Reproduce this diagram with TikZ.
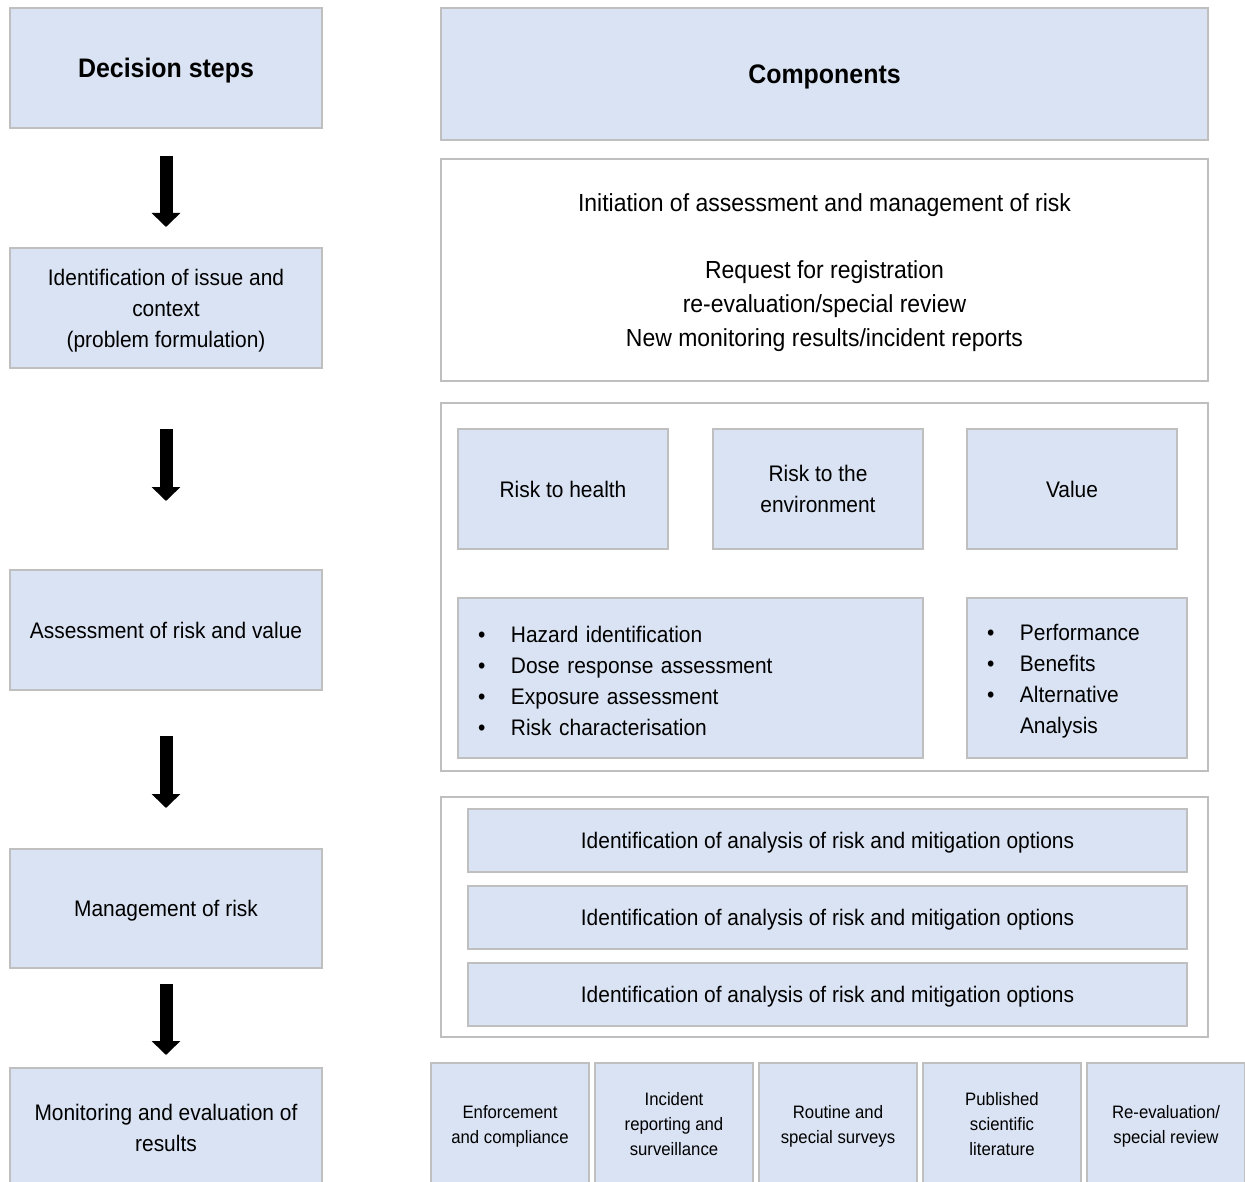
\documentclass[tikz,border=0pt]{standalone}
\usepackage{fontspec}
\setmainfont{Liberation Sans}[FakeStretch=0.93]
\usetikzlibrary{arrows.meta,calc}
\definecolor{boxfill}{HTML}{DAE3F3}
\definecolor{boxline}{HTML}{BFBFBF}
\tikzset{every picture/.style={line width=0.75pt}}
\tikzset{
  stepbox/.style={draw=boxline, line width=2pt, fill=boxfill, inner sep=0pt, align=center, text depth=0pt, font=\fontsize{22.5}{31}\selectfont},
  framebox/.style={draw=boxline, line width=2pt, fill=white, inner sep=0pt, align=center, text depth=0pt},
  headtext/.style={font=\fontsize{26.8}{32}\selectfont\bfseries},
  listbox/.style={draw=boxline, line width=2pt, fill=boxfill, inner sep=0pt, inner xsep=20pt, align=left, font=\fontsize{22.5}{31}\selectfont, execute at begin node={\rule{0pt}{23pt}}},
  sourcebox/.style={stepbox, minimum width=158pt, minimum height=122pt, font=\fontsize{18}{25}\selectfont},
  blockarrow/.style={line width=13pt, -{Triangle[width=28pt,length=14pt]}}
}
\newcommand{\bl}{\makebox[33pt][l]{\textbullet}}

\begin{document}
\begin{tikzpicture}[x=1pt,y=1pt,yscale=-1,xscale=1]
\useasboundingbox (0,0) rectangle (1245,1182);
\clip (0,0) rectangle (1245,1182);

%Shape: Decision steps column
\node[stepbox, headtext, minimum width=312pt, minimum height=120pt] (dec) at (166,68) {Decision steps};
\node[stepbox, minimum width=312pt, minimum height=120pt] (ident) at (166,308) {Identification of issue and\\context\\(problem formulation)};
\node[stepbox, minimum width=312pt, minimum height=120pt] (assess) at (166,630) {Assessment of risk and value};
\node[stepbox, minimum width=312pt, minimum height=119pt] (manage) at (166,908.5) {Management of risk};
\node[stepbox, minimum width=312pt, minimum height=120pt] (monitor) at (166,1128) {Monitoring and evaluation of\\results};

%Block arrows
\draw[blockarrow] ($(dec.south)+(0,27)$) -- ($(ident.north)+(0,-20)$);
\draw[blockarrow] ($(ident.south)+(0,60)$) -- ($(assess.north)+(0,-68)$);
\draw[blockarrow] ($(assess.south)+(0,45)$) -- ($(manage.north)+(0,-40)$);
\draw[blockarrow] ($(manage.south)+(0,15)$) -- ($(monitor.north)+(0,-12)$);

%Shape: Components column
\node[stepbox, headtext, minimum width=767pt, minimum height=132pt] (comp) at (824.5,74) {Components};
\node[framebox, minimum width=767pt, minimum height=222pt, font=\fontsize{24.7}{34}\selectfont] (init) at (824.5,270)
  {Initiation of assessment and management of risk\\[33pt]Request for registration\\re-evaluation/special review\\New monitoring results/incident reports};

% Assessment frame
\node[framebox, minimum width=767pt, minimum height=368pt] (riskframe) at (824.5,587) {};
\node[stepbox, minimum width=210pt, minimum height=120pt] (health) at (563,489) {Risk to health};
\node[stepbox, minimum width=210pt, minimum height=120pt] (env) at (818,489) {Risk to the\\environment};
\node[stepbox, minimum width=210pt, minimum height=120pt] (value) at (1072,489) {Value};
\node[listbox, text width=425pt, minimum height=160pt] (hazard) at (690.5,678)
  {\bl Hazard identification\\\bl Dose response assessment\\\bl Exposure assessment\\\bl Risk characterisation};
\node[listbox, text width=180pt, minimum height=160pt] (perf) at (1077,678)
  {\bl Performance\\\bl Benefits\\\bl Alternative\\\hspace*{33pt}Analysis};

% Management frame
\node[framebox, minimum width=767pt, minimum height=240pt] (mgmtframe) at (824.5,917) {};
\node[stepbox, minimum width=719pt, minimum height=63pt] (opta) at (827.5,840.5) {Identification of analysis of risk and mitigation options};
\node[stepbox, minimum width=719pt, minimum height=63pt] (optb) at (827.5,917.5) {Identification of analysis of risk and mitigation options};
\node[stepbox, minimum width=719pt, minimum height=63pt] (optc) at (827.5,994) {Identification of analysis of risk and mitigation options};

% Monitoring sources
\node[sourcebox] (enforce) at (510,1124) {Enforcement\\and compliance};
\node[sourcebox] (incident) at (674,1124) {Incident\\reporting and\\surveillance};
\node[sourcebox] (survey) at (838,1124) {Routine and\\special surveys};
\node[sourcebox] (literature) at (1002,1124) {Published\\scientific\\literature};
\node[sourcebox] (review) at (1166,1124) {Re-evaluation/\\special review};

\end{tikzpicture}
\end{document}
